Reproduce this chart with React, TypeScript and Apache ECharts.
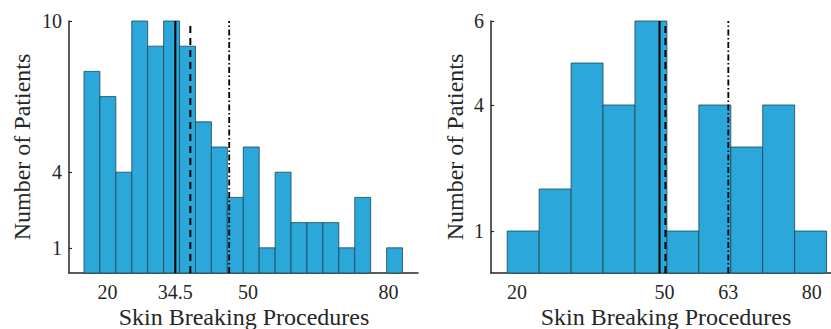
import React, { useEffect, useRef } from "react";
import * as echarts from "echarts";

// Left histogram
const leftEdges = [15, 18.4, 21.8, 25.2, 28.6, 32, 35.4, 38.8, 42.2, 45.6, 49, 52.4, 55.8, 59.2, 62.6, 66, 69.4, 72.8, 76.2, 79.6, 83];
const leftCounts = [8, 7, 4, 10, 9, 10, 9, 6, 5, 3, 5, 1, 4, 2, 2, 2, 1, 3, 0, 1];
const leftXTicks = [20, 34.5, 50, 80];
const leftYTicks = [1, 4, 10];
const leftLines = { solid: 34.5, dashed: 37.7, dashDot: 46 };

// Right histogram
const rightEdges = [18, 24.5, 31, 37.5, 44, 50.5, 57, 63.5, 70, 76.5, 83];
const rightCounts = [1, 2, 5, 4, 6, 1, 4, 3, 4, 1];
const rightXTicks = [20, 50, 63, 80];
const rightYTicks = [1, 4, 6];
const rightLines = { solid: 49, dashed: 50.2, dashDot: 63 };

const xTitle = "Skin Breaking Procedures";
const yTitle = "Number of Patients";

const FAMILY = "'Liberation Serif', 'DejaVu Serif', serif";
const TEXT = "#262626";
const AXIS = "#262626";
const BAR = "#2ba8d9";
const EDGE = "#1d4556";

function histData(edges: number[], counts: number[]) {
  return counts.map((c, i) => [edges[i], edges[i + 1], c]);
}

function renderBar(params: any, api: any) {
  const c = api.value(2);
  if (!c) return null;
  const p0 = api.coord([api.value(0), c]);
  const p1 = api.coord([api.value(1), 0]);
  return {
    type: "rect",
    shape: { x: p0[0], y: p0[1], width: p1[0] - p0[0], height: p1[1] - p0[1] },
    style: { fill: BAR, stroke: EDGE, lineWidth: 0.8 },
  };
}

function xAxisCfg(gridIndex: number, min: number, max: number, ticks: number[]) {
  return {
    type: "value",
    gridIndex,
    min,
    max,
    splitLine: { show: false },
    axisLine: { show: true, onZero: false, lineStyle: { color: AXIS, width: 1.5 } },
    axisTick: { show: true, inside: true, length: 3, customValues: ticks, lineStyle: { color: AXIS, width: 1.2 } },
    axisLabel: { customValues: ticks, fontFamily: FAMILY, fontSize: 20, color: TEXT, margin: 9 },
  };
}

function yAxisCfg(gridIndex: number, max: number, ticks: number[]) {
  return {
    type: "value",
    gridIndex,
    min: 0,
    max,
    splitLine: { show: false },
    axisLine: { show: true, lineStyle: { color: AXIS, width: 1.5 } },
    axisTick: { show: true, inside: true, length: 3, customValues: ticks, lineStyle: { color: AXIS, width: 1.2 } },
    axisLabel: { customValues: ticks, fontFamily: FAMILY, fontSize: 20, color: TEXT, margin: 7 },
  };
}

function vLine(idx: number, x: number, yMax: number, type: any, width: number) {
  return {
    type: "line",
    xAxisIndex: idx,
    yAxisIndex: idx,
    data: [[x, 0], [x, yMax]],
    symbol: "none",
    silent: true,
    z: 5,
    lineStyle: { color: "#000", width, type },
  };
}

function titleText(text: string, x: number, y: number, rotated: boolean) {
  return {
    type: "text",
    x,
    y,
    rotation: rotated ? Math.PI / 2 : 0,
    silent: true,
    style: {
      text,
      fontFamily: FAMILY,
      fontSize: 24,
      fill: TEXT,
      align: "center",
      verticalAlign: rotated ? "middle" : "bottom",
    },
  };
}

export default function App() {
  const ref = useRef<HTMLDivElement>(null);
  useEffect(() => {
    if (!ref.current) return;
    const chart = echarts.init(ref.current, null, { renderer: "svg" });
    chart.setOption({
      animation: false,
      backgroundColor: "#ffffff",
      textStyle: { fontFamily: FAMILY },
      grid: [
        { left: 69, right: 413, top: 21, bottom: 56, containLabel: false, outerBoundsMode: "none" },
        { left: 491, right: 0, top: 21, bottom: 56, containLabel: false, outerBoundsMode: "none" },
      ],
      xAxis: [xAxisCfg(0, 11.8, 86.3, leftXTicks), xAxisCfg(1, 14.7, 83.9, rightXTicks)],
      yAxis: [yAxisCfg(0, 10, leftYTicks), yAxisCfg(1, 6, rightYTicks)],
      graphic: [
        titleText(xTitle, 244, 329, false),
        titleText(xTitle, 666, 329, false),
        titleText(yTitle, 22, 147, true),
        titleText(yTitle, 455, 147, true),
      ],
      series: [
        {
          type: "custom",
          xAxisIndex: 0,
          yAxisIndex: 0,
          renderItem: renderBar,
          encode: { x: [0, 1], y: 2 },
          data: histData(leftEdges, leftCounts),
          silent: true,
        },
        {
          type: "custom",
          xAxisIndex: 1,
          yAxisIndex: 1,
          renderItem: renderBar,
          encode: { x: [0, 1], y: 2 },
          data: histData(rightEdges, rightCounts),
          silent: true,
        },
        vLine(0, leftLines.solid, 10, "solid", 2),
        vLine(0, leftLines.dashed, 10, [7, 5], 2),
        vLine(0, leftLines.dashDot, 10, [6, 2.5, 1.5, 2.5], 1.8),
        vLine(1, rightLines.solid, 6, "solid", 2),
        vLine(1, rightLines.dashed, 6, [7, 5], 2),
        vLine(1, rightLines.dashDot, 6, [6, 2.5, 1.5, 2.5], 1.8),
      ],
    });
    return () => chart.dispose();
  }, []);
  return <div ref={ref} style={{ width: 831, height: 329, position: "absolute", left: 0, top: 0 }} />;
}
